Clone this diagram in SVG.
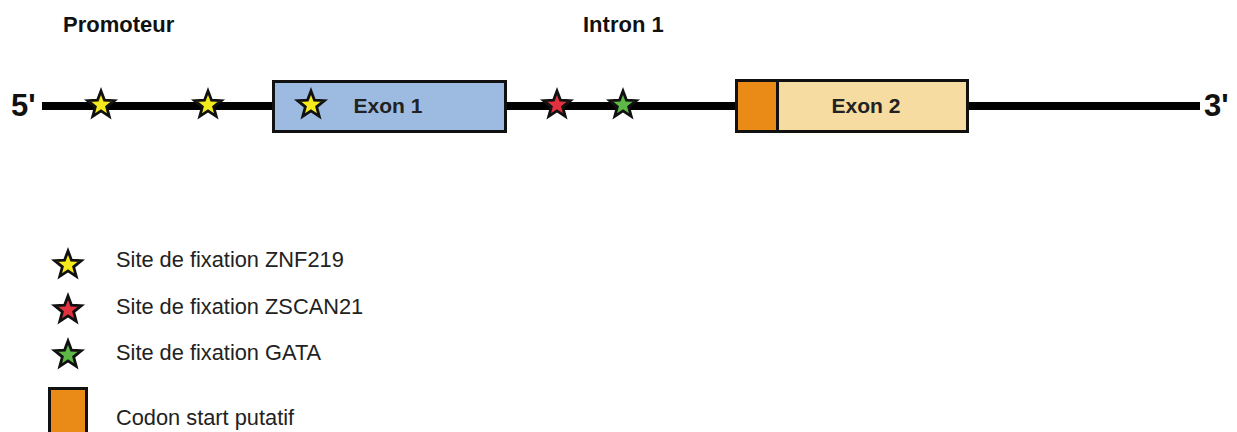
<svg xmlns="http://www.w3.org/2000/svg" width="1237" height="432" viewBox="0 0 1237 432">
<style>
.title{font-family:"Liberation Sans",Arial,sans-serif;font-weight:bold;font-size:22px;fill:#111}
.end{font-family:"Liberation Sans",Arial,sans-serif;font-weight:bold;font-size:31px;fill:#111}
.lbl{font-family:"Liberation Sans",Arial,sans-serif;font-weight:bold;font-size:21px;fill:#222}
.leg{font-family:"Liberation Sans",Arial,sans-serif;font-size:21.8px;fill:#222}
.star{stroke:#111;stroke-width:2.8;stroke-linejoin:miter}
.box{stroke:#111;stroke-width:3}
</style>
<defs>
<path id="star" d="M0,-14 L3.5,-4.8 L13.3,-4.33 L5.65,1.84 L8.23,11.33 L0,5.95 L-8.23,11.33 L-5.65,1.84 L-13.3,-4.33 L-3.5,-4.8 Z"/>
</defs>
<rect width="1237" height="432" fill="#fff"/>
<g id="connectors">
<line x1="42" y1="106" x2="1200" y2="106" stroke="#000" stroke-width="8"/>
</g>
<g id="titles">
<text class="title" x="63" y="32">Promoteur</text>
<text class="title" x="583" y="32">Intron 1</text>
</g>
<g id="ends">
<text class="end" x="11" y="116">5'</text>
<text class="end" x="1204" y="116">3'</text>
</g>
<g id="exon1">
<rect class="box" x="273.5" y="81.5" width="232" height="50" fill="#9DBBE1"/>
<text class="lbl" x="388" y="113" text-anchor="middle">Exon 1</text>
</g>
<g id="exon2">
<rect class="box" x="736.5" y="80.5" width="231" height="51" fill="#F6DCA0"/>
<rect class="box" x="736.5" y="80.5" width="41" height="51" fill="#EA8A17"/>
<text class="lbl" x="866" y="113" text-anchor="middle">Exon 2</text>
</g>
<g id="sites">
<use href="#star" class="star" x="101" y="105" fill="#F4EA1C"/>
<use href="#star" class="star" x="208" y="105" fill="#F4EA1C"/>
<use href="#star" class="star" x="311" y="105" fill="#F4EA1C"/>
<use href="#star" class="star" x="557" y="105" fill="#E2323F"/>
<use href="#star" class="star" x="623" y="105" fill="#5DB848"/>
</g>
<g id="legend">
<use href="#star" class="star" x="68" y="265" fill="#F4EA1C"/>
<text class="leg" x="116" y="267">Site de fixation ZNF219</text>
<use href="#star" class="star" x="68" y="310" fill="#E2323F"/>
<text class="leg" x="116" y="314">Site de fixation ZSCAN21</text>
<use href="#star" class="star" x="68" y="355" fill="#5DB848"/>
<text class="leg" x="116" y="360">Site de fixation GATA</text>
<rect class="box" x="49.5" y="388.5" width="37" height="50" fill="#EA8A17"/>
<text class="leg" x="116" y="425">Codon start putatif</text>
</g>
</svg>
